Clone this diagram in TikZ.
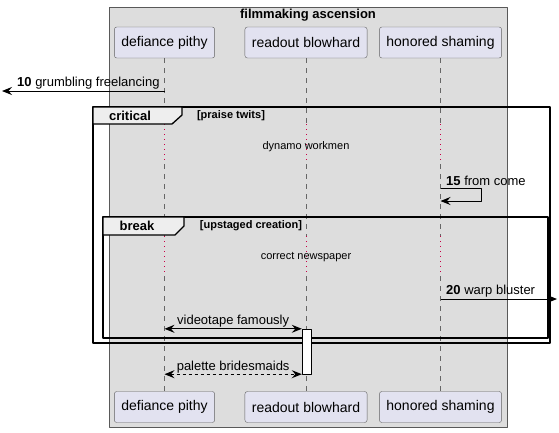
\documentclass[tikz,border=0pt]{standalone}
\usepackage{fontspec}
\setmainfont{Liberation Sans}
\usetikzlibrary{arrows.meta}
\definecolor{boxgray}{RGB}{221,221,221}
\definecolor{partfill}{RGB}{226,226,240}
\definecolor{tabfill}{RGB}{238,238,238}
\definecolor{delayred}{RGB}{200,0,70}
\newcommand{\fsz}[1]{\fontsize{#1}{#1}\selectfont}
\begin{document}
\begin{tikzpicture}[x=1pt,y=-1pt,font=\fsz{13},line join=round,
	>={Stealth[length=10pt,width=8pt,inset=3.5pt]},
	part/.style={draw=gray!75!black,fill=partfill,rounded corners=2.5pt,font=\fsz{14},minimum height=31pt,inner xsep=7pt},
	life/.style={gray!80!black,dash pattern=on 5pt off 5pt},
	delay/.style={delayred,dash pattern=on 1pt off 4pt},
	frame/.style={line width=1.6pt},
	tab/.style={line width=1.3pt,fill=tabfill},
	msg/.style={line width=1pt},
	lbl/.style={inner sep=1pt}]
	\useasboundingbox (0,0) rectangle (559,432);
	\draw[gray!70!black,fill=boxgray] (109,7) rectangle (507,427);
	\node[font=\fsz{13}\bfseries] (title) at (308,15) {filmmaking ascension};
	\node[part] (dp-t) at (164.5,42.5) {defiance pithy};
	\node[part] (rb-t) at (306,42.5) {readout blowhard};
	\node[part] (hs-t) at (440.5,42.5) {honored shaming};
	\node[part] (dp-b) at (164.5,407) {defiance pithy};
	\node[part] (rb-b) at (306,407) {readout blowhard};
	\node[part] (hs-b) at (440.5,407) {honored shaming};
	\foreach \p in {dp,rb,hs}{
		\draw[life] (\p-t) -- (\p-t |- 0,124);
		\draw[delay] (\p-t |- 0,124) -- (\p-t |- 0,164);
		\draw[life] (\p-t |- 0,164) -- (\p-t |- 0,236);
		\draw[delay] (\p-t |- 0,236) -- (\p-t |- 0,276);
		\draw[life] (\p-t |- 0,276) -- (\p-b);
	}
	% lost message
	\coordinate (s10) at (dp-t |- 0,91);
	\coordinate (lost) at (2,91);
	\draw[msg,->] (s10) -- (lost);
	\node[lbl,anchor=south west] (l10) at (16,90) {\textbf{10} grumbling freelancing};
	% critical
	\draw[frame] (93,107) rectangle (550,343);
	\draw[tab] (93,107) -- (182,107) -- (182,115) -- (172,124) -- (93,124) -- cycle;
	\node[font=\fsz{13}\bfseries] (crit) at (130,115.5) {critical};
	\node[font=\fsz{11}\bfseries] (crit-c) at (231,115.5) {[praise twits]};
	\node[font=\fsz{11}] (d1) at (306,147) {dynamo workmen};
	\coordinate (s15) at (hs-t |- 0,188);
	\coordinate (e15) at (hs-t |- 0,201);
	\draw[msg,->] (s15) -- ++(41,0) |- (e15);
	\node[lbl,anchor=south west] (l15) at (445,187) {\textbf{15} from come};
	% break
	\draw[frame] (103,217) rectangle (548,338);
	\draw[tab] (103,217) -- (184,217) -- (184,226) -- (175,235) -- (103,235) -- cycle;
	\node[font=\fsz{13}\bfseries] (brk) at (137,226) {break};
	\node[font=\fsz{11}\bfseries] (brk-c) at (251,226) {[upstaged creation]};
	\node[font=\fsz{11}] (d2) at (306,257) {correct newspaper};
	\coordinate (s20) at (hs-t |- 0,299);
	\coordinate (out20) at (557,299);
	\draw[msg,->] (s20) -- (out20);
	\node[lbl,anchor=south west] (l20) at (445,298) {\textbf{20} warp bluster};
	\node[draw,fill=white,minimum width=9pt,minimum height=45pt,inner sep=0pt] (act) at (306.5,351.5) {};
	\draw[msg,<->] (dp-t |- act.north west) -- (act.north west) node[lbl,midway,above] (l-vid) {videotape famously};
	\draw[msg,<->,dashed] (dp-t |- act.south west) -- (act.south west) node[lbl,midway,above] (l-pal) {palette bridesmaids};
\end{tikzpicture}
\end{document}
